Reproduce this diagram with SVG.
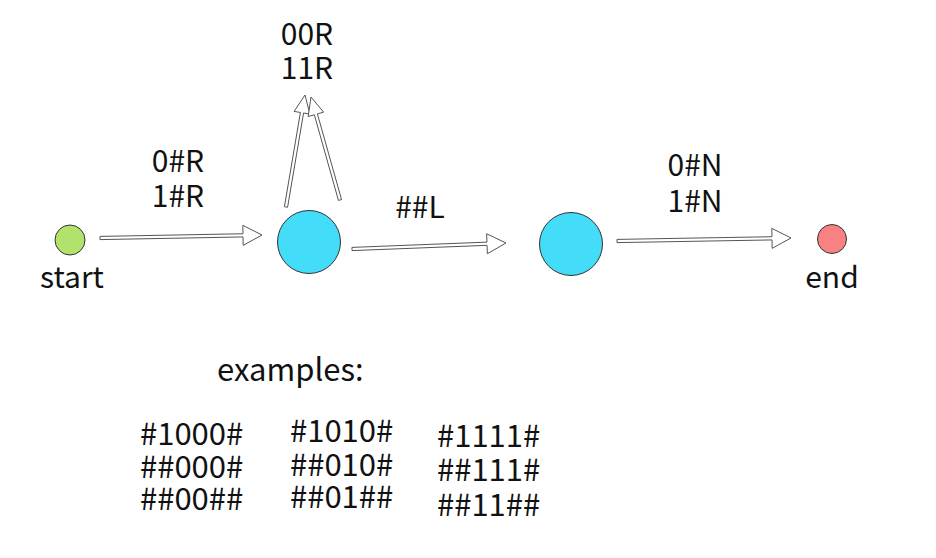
<svg xmlns="http://www.w3.org/2000/svg" width="936" height="558" viewBox="0 0 936 558">
<style>
text{font-family:"Noto Sans CJK SC","Noto Sans",sans-serif;fill:#111;font-size:30px}
.c{text-anchor:middle}
.ex{font-size:31px}
.arr{fill:#fff;stroke:#555;stroke-width:1}
.st{stroke:#333;stroke-width:1}
</style>
<rect width="936" height="558" fill="#fff"/>
<g id="connectors">
<polygon class="arr" points="100,236.4 243,233.75 242.8,225.35 262,235 243.2,245.35 243,236.95 100,239.6"/>
<polygon class="arr" points="284.42,206.73 300.41,112.48 294.1,111.41 305,95 309.88,114.09 303.57,113.02 287.58,207.27"/>
<polygon class="arr" points="338.46,200.43 314.34,114.76 308.18,116.5 311,97 323.58,112.16 317.42,113.9 341.54,199.57"/>
<polygon class="arr" points="351.94,247.4 486.94,242.14 486.61,233.75 506,243 487.39,253.73 487.06,245.34 352.06,250.6"/>
<polygon class="arr" points="617,239.4 772,236.73 771.83,228.33 791,238 772.17,248.33 772,239.93 617,242.6"/>
<text class="c" x="178" y="172">0#R</text>
<text class="c" x="178" y="207">1#R</text>
<text class="c" x="307" y="45">00R</text>
<text class="c" x="307" y="79">11R</text>
<text class="c" x="420" y="218">##L</text>
<text class="c" x="695" y="176">0#N</text>
<text class="c" x="695" y="212">1#N</text>
</g>
<g id="start">
<circle class="st" cx="70" cy="240" r="15" fill="#b1e26c"/>
<text class="c" x="72" y="288">start</text>
</g>
<g id="s1">
<circle class="st" cx="309" cy="242" r="31.5" fill="#44ddf9"/>
</g>
<g id="s2">
<circle class="st" cx="571" cy="244" r="31.5" fill="#44ddf9"/>
</g>
<g id="end">
<circle class="st" cx="832" cy="239" r="14.5" fill="#f88282"/>
<text class="c" x="832" y="288">end</text>
</g>
<g id="examples" class="ex">
<text class="ex" x="217" y="381">examples:</text>
<text class="ex" x="140" y="445">#1000#</text>
<text class="ex" x="140" y="478">##000#</text>
<text class="ex" x="140" y="510">##00##</text>
<text class="ex" x="290" y="442">#1010#</text>
<text class="ex" x="290" y="476">##010#</text>
<text class="ex" x="290" y="508">##01##</text>
<text class="ex" x="437" y="447">#1111#</text>
<text class="ex" x="437" y="481">##111#</text>
<text class="ex" x="437" y="516">##11##</text>
</g>
</svg>
